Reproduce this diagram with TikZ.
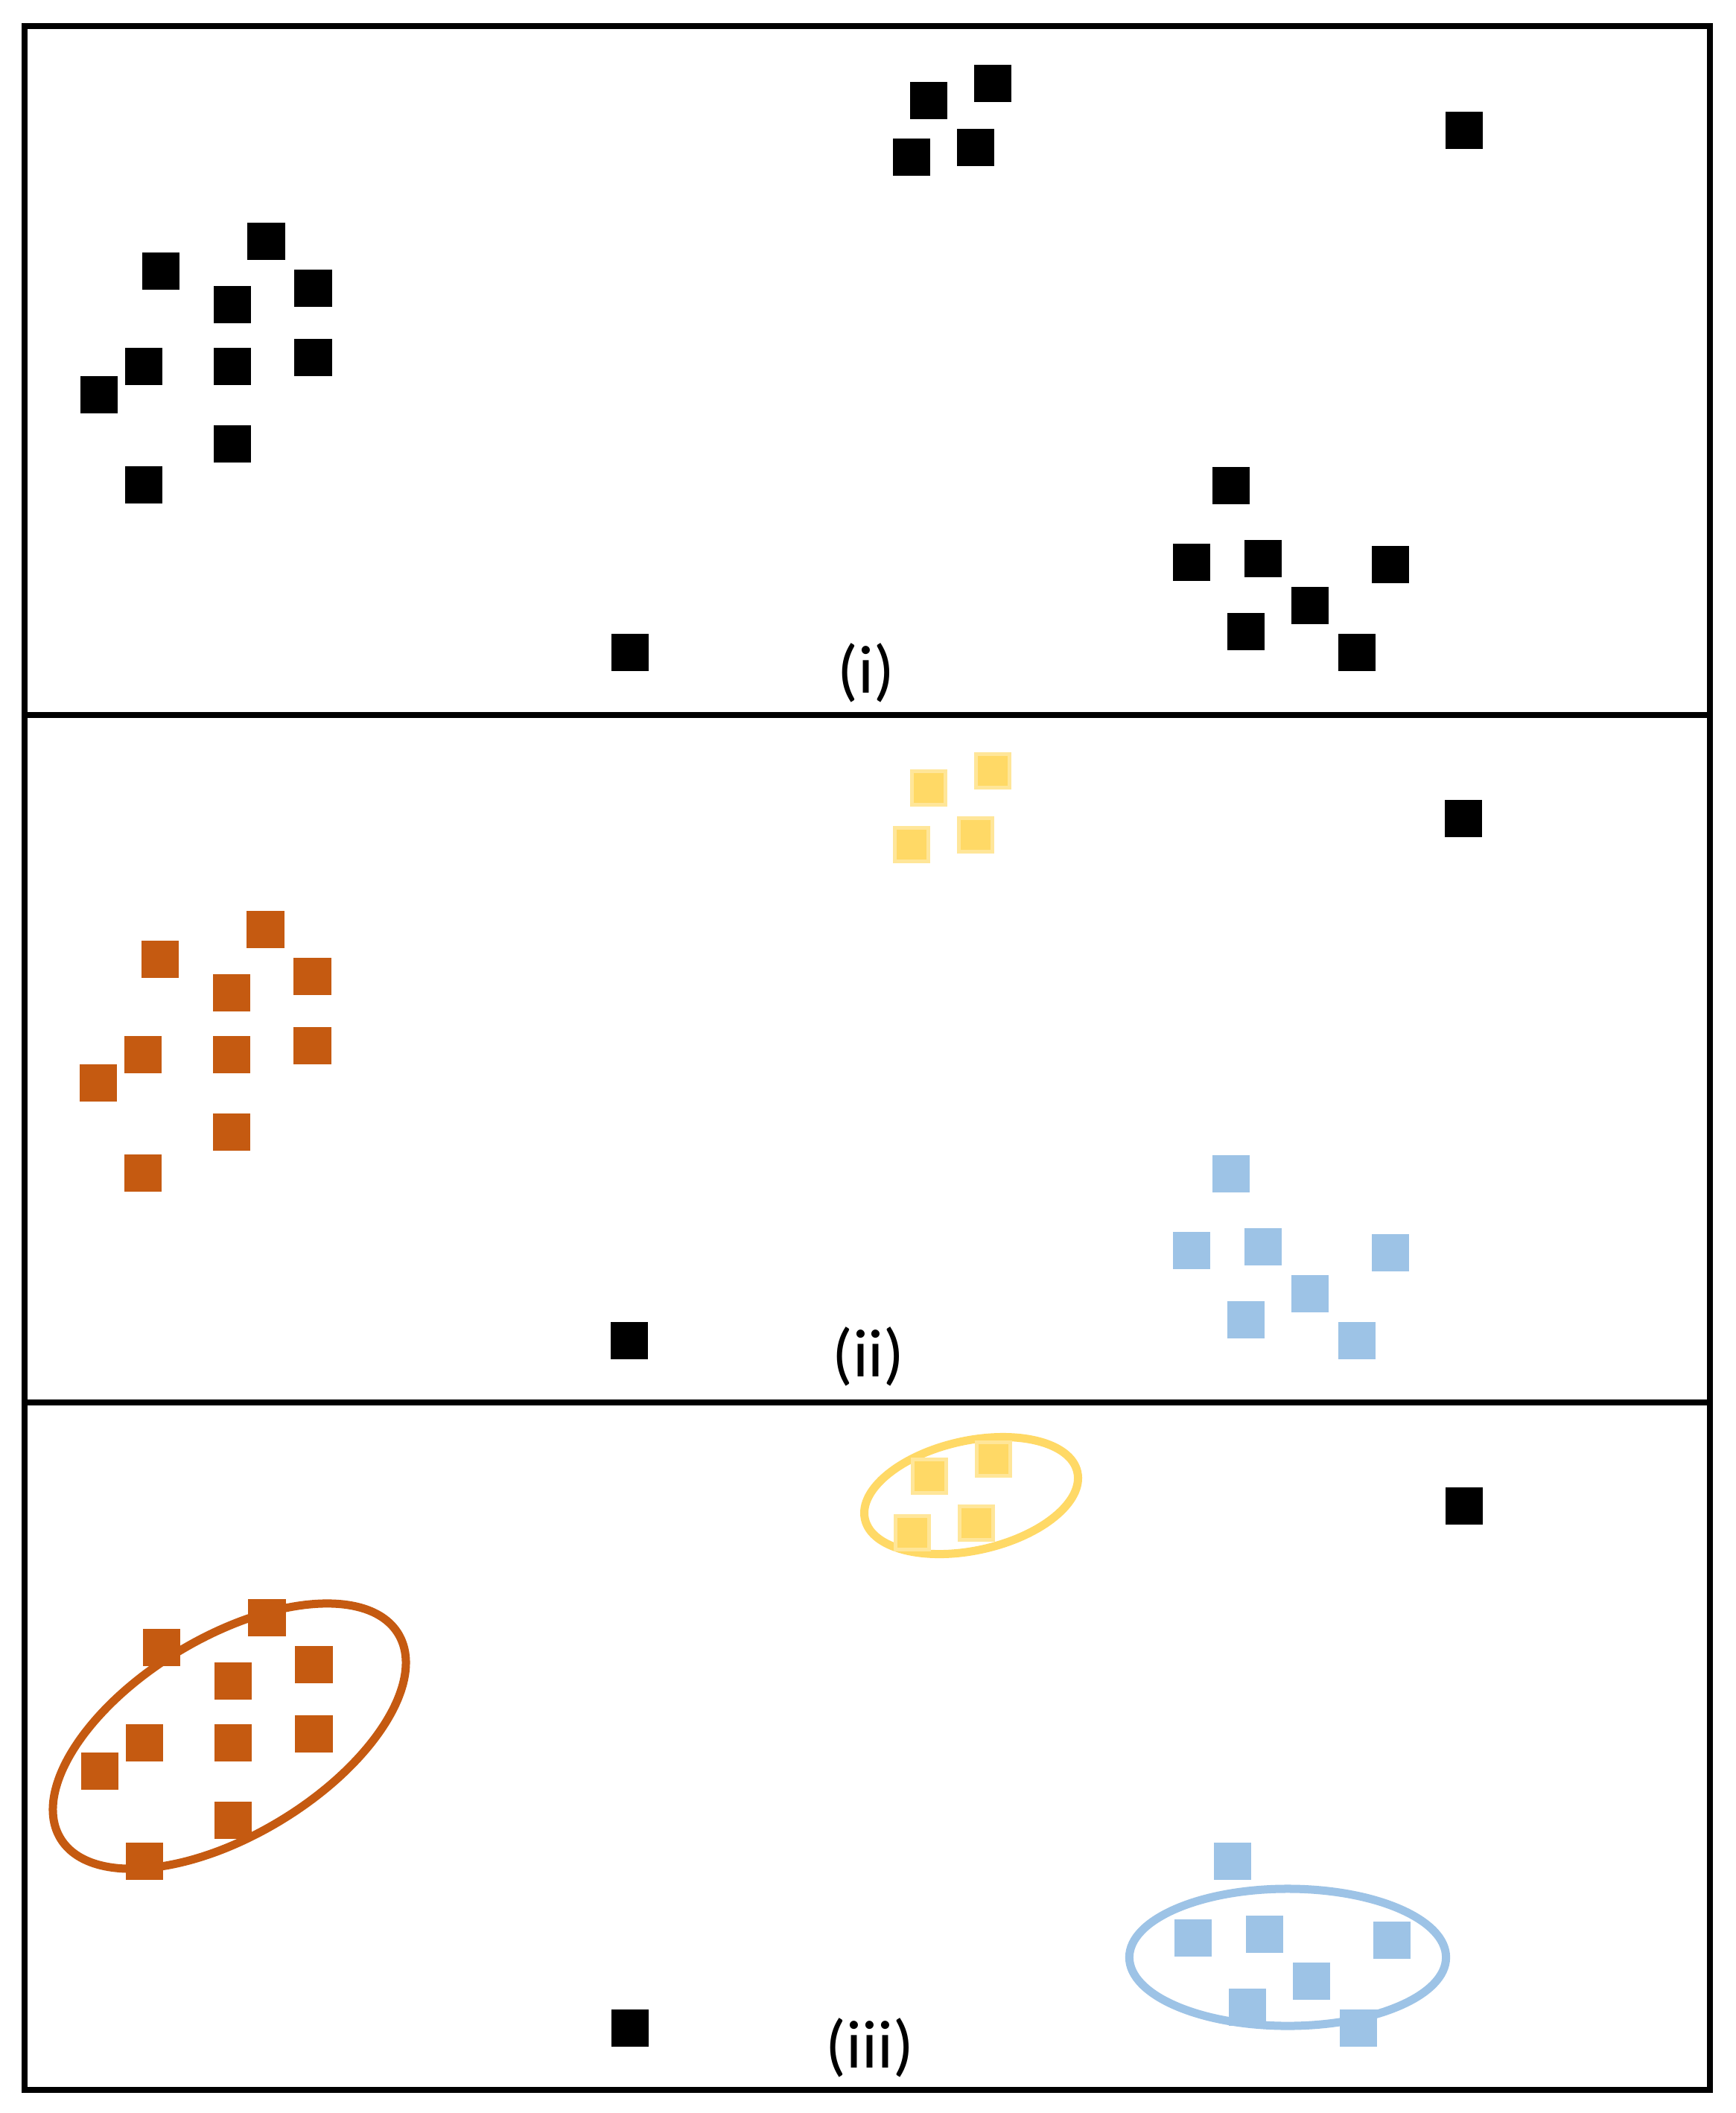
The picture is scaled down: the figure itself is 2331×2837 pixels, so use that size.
\documentclass[tikz,border=0pt]{standalone}
\usepackage{fontspec}
\setmainfont{Carlito}
\definecolor{orng}{HTML}{C55A11}
\definecolor{ylw}{HTML}{FFD966}
\definecolor{ylwb}{HTML}{FFE699}
\definecolor{blu}{HTML}{9DC3E6}
\begin{document}
\begin{tikzpicture}[x=0.01cm,y=-0.01cm,
  sq/.style={minimum size=0.5cm, inner sep=0pt, outer sep=0pt, draw=none},
  blk/.style={sq, fill=black},
  osq/.style={sq, fill=orng},
  bsq/.style={sq, fill=blu},
  ysq/.style={sq, minimum size=0.45cm, fill=ylw, draw=ylwb, line width=0.05cm},
  frame/.style={line width=0.08cm, black},
  ring/.style={line width=0.11cm},
  lbl/.style={inner sep=0pt, font=\fontsize{26pt}{31pt}\selectfont}]
\useasboundingbox (0,0) rectangle (2331,2837);
\fill[white] (0,0) rectangle (2331,2837);

% ellipses in panel (iii)
\draw[ring, orng, rotate around={31.2:(308,2331)}] (308,2331) ellipse [x radius=2.65cm, y radius=1.325cm];
\draw[ring, ylw, rotate around={12.5:(1304,2008)}] (1304,2008) ellipse [x radius=1.46cm, y radius=0.736cm];
\draw[ring, blu] (1729,2628) ellipse [x radius=2.125cm, y radius=0.92cm];

% left cluster
\foreach \x/\y [count=\i] in {216/364, 357.5/324, 312/409, 420.5/387, 193/492, 312/492, 420.5/480, 133/530, 312/596, 193/651} {
  \node[blk] (a\i) at (\x,\y) {};
  \node[osq] (b\i) at (\x-1,\y+924) {};
  \node[osq] (c\i) at (\x+1,\y+1848) {};
}
% top cluster
\foreach \x/\y [count=\i] in {1247/135, 1333/112, 1224/211, 1310/198} {
  \node[blk] (d\i) at (\x,\y) {};
  \node[ysq] (e\i) at (\x,\y+923) {};
  \node[ysq] (f\i) at (\x+1,\y+1847) {};
}
% bottom-right cluster
\foreach \x/\y [count=\i] in {1653/652, 1600/755, 1696/750, 1867/758, 1759/813, 1673/848, 1821.5/876} {
  \node[blk] (g\i) at (\x,\y) {};
  \node[bsq] (h\i) at (\x,\y+924) {};
  \node[bsq] (k\i) at (\x+2,\y+1847) {};
}
% single points
\foreach \x/\y [count=\i] in {1965.5/175, 846/876} {
  \node[blk] (m\i) at (\x,\y) {};
  \node[blk] (n\i) at (\x-1,\y+924) {};
  \node[blk] (p\i) at (\x,\y+1847) {};
}

% frame
\draw[frame] (33,35) rectangle (2296,2805.5);
\draw[frame] (33,960) -- (2296,960);
\draw[frame] (33,1882.5) -- (2296,1882.5);

% labels
\node[lbl] (l1) at (1163,903) {(i)};
\node[lbl] (l2) at (1166,1821) {(ii)};
\node[lbl] (l3) at (1168,2749) {(iii)};
\end{tikzpicture}
\end{document}
